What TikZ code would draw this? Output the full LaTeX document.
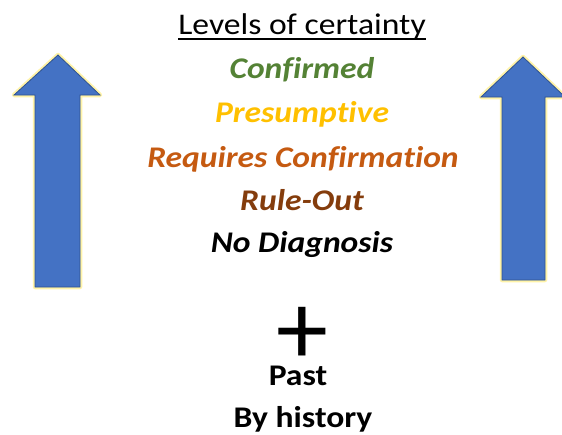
\documentclass[tikz,border=0pt]{standalone}
\usepackage{fontspec}
\usetikzlibrary{calc}
\setmainfont[FakeStretch=1.12,RawFeature={-liga}]{Carlito}
\newfontfamily\plusfont{Carlito}
\definecolor{cgreen}{HTML}{548235}
\definecolor{cgold}{HTML}{FFC000}
\definecolor{corange}{HTML}{C55A11}
\definecolor{cbrown}{HTML}{843C0C}
\definecolor{cblue}{HTML}{4472C4}
\definecolor{cblueedge}{HTML}{2F528F}
\definecolor{cglow}{HTML}{FFF3A8}
\begin{document}
\begin{tikzpicture}[x=1pt,y=-1pt,
  lvl/.style={anchor=base,inner sep=0pt,font=\fontsize{30}{36}\selectfont\bfseries\itshape},
  plain/.style={anchor=base,inner sep=0pt,font=\fontsize{30}{36}\selectfont\bfseries},
  uparrow/.style={fill=cblue,draw=cblueedge,line width=0.8pt,line join=miter},
  glow/.style={draw=cglow,line width=4.5pt,line join=round}]
\useasboundingbox (0,0) rectangle (562,434);
% left arrow
\path[glow] (58,55) -- (100,95) -- (80,95) -- (80,287) -- (35,287) -- (35,95) -- (14,95) -- cycle;
\path[uparrow] (58,55) -- (100,95) -- (80,95) -- (80,287) -- (35,287) -- (35,95) -- (14,95) -- cycle;
% right arrow
\path[glow] (523,57) -- (565,97) -- (545,97) -- (545,280) -- (502,280) -- (502,97) -- (481,97) -- cycle;
\path[uparrow] (523,57) -- (565,97) -- (545,97) -- (545,280) -- (502,280) -- (502,97) -- (481,97) -- cycle;
% title
\node[anchor=base,inner sep=0pt,font=\fontsize{30}{36}\selectfont] (title) at (302,34) {Levels of certainty};
\coordinate (ulA) at ($(title.base west)+(0,5)$);
\coordinate (ulB) at ($(title.base east)+(0,5)$);
\draw[line width=1.8pt] (ulA) -- (ulB);
\node[lvl,text=cgreen] (conf) at (302,78) {Confirmed};
\node[lvl,text=cgold] (pres) at (302,122) {Presumptive};
\node[lvl,text=corange] (req) at (303,167) {Requires Confirmation};
\node[lvl,text=cbrown] (rule) at (302,210) {Rule-Out};
\node[lvl,text=black] (nod) at (302,252) {No Diagnosis};
\node[inner sep=0pt,font=\plusfont\fontsize{104}{104}\selectfont] (plus) at (302,364) {\smash{+}};
\node[plain] (past) at (298,385) {Past};
\node[plain] (hist) at (303,427) {By history};
\end{tikzpicture}
\end{document}
